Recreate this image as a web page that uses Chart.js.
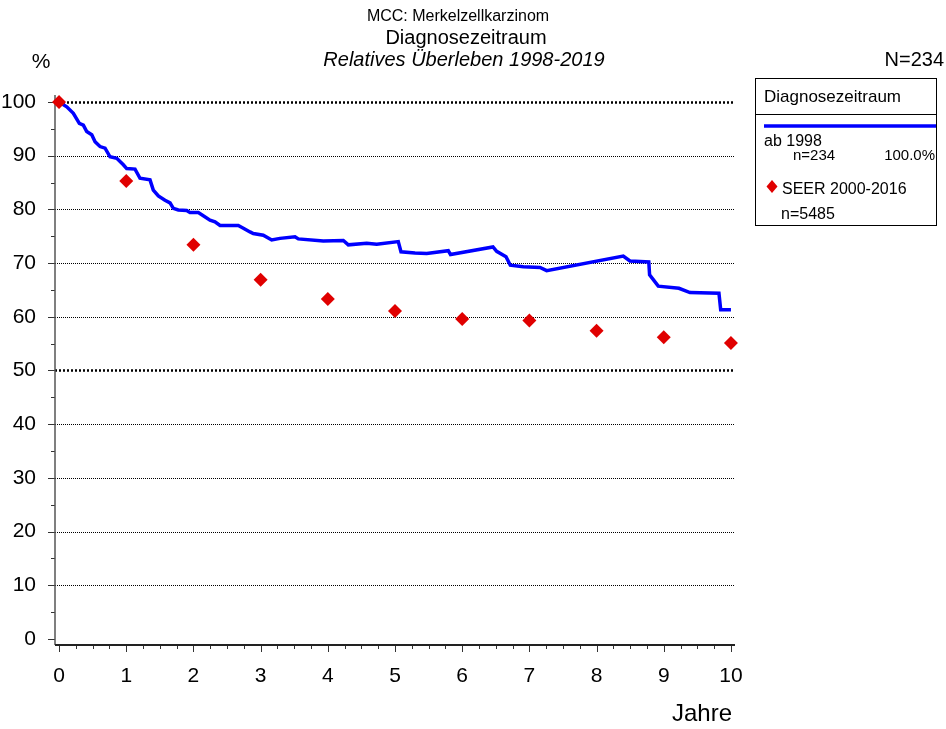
<!DOCTYPE html>
<html>
<head>
<meta charset="utf-8">
<script src="https://cdn.jsdelivr.net/npm/chart.js@4.4.1/dist/chart.umd.min.js"></script>
<style>
  html, body { margin: 0; padding: 0; background: #fff; }
  #wrap { width: 946px; height: 729px; }
</style>
</head>
<body>
<div id="wrap"><canvas id="chart" width="946" height="729"></canvas></div>
<script>
// Relative survival, diagnosis period from 1998 (n=234)
const survivalYears = [0, 0.115, 0.213, 0.302, 0.362, 0.412, 0.487, 0.536, 0.610, 0.685, 0.759, 0.859, 0.957,
  1.007, 1.131, 1.205, 1.354, 1.403, 1.478, 1.577, 1.652, 1.701, 1.775, 1.900, 1.949, 2.073, 2.124, 2.247,
  2.321, 2.396, 2.668, 2.743, 2.842, 2.891, 3.040, 3.165, 3.289, 3.512, 3.561, 3.933, 4.231, 4.305, 4.579,
  4.728, 5.049, 5.089, 5.298, 5.472, 5.793, 5.826, 6.458, 6.513, 6.652, 6.716, 6.909, 7.158, 7.257, 8.397,
  8.497, 8.777, 8.789, 8.918, 9.226, 9.390, 9.821, 9.847, 10.0];
const survivalPct = [100, 99.1, 97.9, 96.0, 95.7, 94.5, 93.9, 92.6, 91.7, 91.4, 89.8, 89.5, 88.3,
  87.6, 87.5, 85.8, 85.5, 83.6, 82.5, 81.7, 81.2, 80.2, 79.9, 79.8, 79.4, 79.4, 79.0, 78.0,
  77.7, 77.0, 77.0, 76.5, 75.8, 75.5, 75.2, 74.3, 74.6, 74.9, 74.5, 74.1, 74.2, 73.4, 73.7,
  73.5, 74.0, 72.1, 71.9, 71.8, 72.3, 71.6, 73.0, 72.2, 71.2, 69.6, 69.3, 69.2, 68.6, 71.3,
  70.4, 70.2, 67.8, 65.7, 65.3, 64.5, 64.4, 61.3, 61.3];

// SEER 2000-2016 comparison (n=5485)
const seerYears = [0, 1, 2, 3, 4, 5, 6, 7, 8, 9, 10];
const seerPct = [100, 85.3, 73.4, 66.9, 63.3, 61.1, 59.6, 59.3, 57.4, 56.2, 55.1];

const yTicks = [0, 10, 20, 30, 40, 50, 60, 70, 80, 90, 100];
const xTicks = [0, 1, 2, 3, 4, 5, 6, 7, 8, 9, 10];

const FONT = "'Liberation Sans', Arial, sans-serif";

// dotted grid, axis lines and tick marks
const frame = {
  id: 'frame',
  beforeDatasetsDraw(chart) {
    const { ctx, chartArea: a, scales: { x, y } } = chart;
    ctx.save();
    ctx.strokeStyle = '#000';
    yTicks.forEach(v => {
      if (v === 0) return;
      const heavy = v === 100 || v === 50;
      const py = Math.round(y.getPixelForValue(v)) + 0.5;
      ctx.lineWidth = heavy ? 2.5 : 1;
      ctx.setLineDash(heavy ? [2, 2] : [1, 1]);
      ctx.beginPath();
      ctx.moveTo(a.left, py);
      ctx.lineTo(a.right, py);
      ctx.stroke();
    });
    ctx.setLineDash([]);

    // tick marks
    ctx.lineWidth = 1;
    ctx.strokeStyle = '#333';
    for (let v = 0; v <= 100; v += 5) {
      const py = Math.round(y.getPixelForValue(v)) + 0.5;
      const len = v % 10 === 0 ? 7 : 4;
      ctx.beginPath();
      ctx.moveTo(a.left - len, py);
      ctx.lineTo(a.left, py);
      ctx.stroke();
    }
    for (let i = 0; i <= 40; i++) {
      const px = Math.round(x.getPixelForValue(i / 4)) + 0.5;
      const len = i % 4 === 0 ? 7 : 4;
      ctx.beginPath();
      ctx.moveTo(px, a.bottom);
      ctx.lineTo(px, a.bottom + len);
      ctx.stroke();
    }

    // axes
    ctx.strokeStyle = '#555';
    ctx.lineWidth = 1.5;
    ctx.beginPath();
    ctx.moveTo(a.left, a.top);
    ctx.lineTo(a.left, a.bottom);
    ctx.stroke();
    ctx.strokeStyle = '#222';
    ctx.lineWidth = 2;
    ctx.beginPath();
    ctx.moveTo(a.left, a.bottom);
    ctx.lineTo(a.right, a.bottom);
    ctx.stroke();
    ctx.restore();
  }
};

// titles, axis captions and the legend box
const texts = {
  id: 'texts',
  afterDraw(chart) {
    const ctx = chart.ctx;
    ctx.save();
    ctx.fillStyle = '#000';
    ctx.textBaseline = 'middle';

    ctx.textAlign = 'center';
    ctx.font = `16px ${FONT}`;
    ctx.fillText('MCC: Merkelzellkarzinom', 458, 17);
    ctx.font = `20px ${FONT}`;
    ctx.fillText('Diagnosezeitraum', 466, 38);
    ctx.font = `italic 20px ${FONT}`;
    ctx.fillText('Relatives Überleben 1998-2019', 464, 60);

    ctx.font = `21px ${FONT}`;
    ctx.fillText('%', 41, 62);
    ctx.textAlign = 'right';
    ctx.font = `20px ${FONT}`;
    ctx.fillText('N=234', 944, 60);
    ctx.font = `24px ${FONT}`;
    ctx.fillText('Jahre', 732, 714);

    // legend box
    ctx.strokeStyle = '#000';
    ctx.lineWidth = 1;
    ctx.strokeRect(755.5, 78.5, 181, 147);
    ctx.beginPath();
    ctx.moveTo(755, 114.5);
    ctx.lineTo(936, 114.5);
    ctx.stroke();

    ctx.textAlign = 'left';
    ctx.font = `17px ${FONT}`;
    ctx.fillText('Diagnosezeitraum', 764, 97);

    ctx.strokeStyle = '#0000ff';
    ctx.lineWidth = 3.5;
    ctx.beginPath();
    ctx.moveTo(764, 126);
    ctx.lineTo(936, 126);
    ctx.stroke();

    ctx.font = `16px ${FONT}`;
    ctx.fillText('ab 1998', 764, 142);
    ctx.font = `15px ${FONT}`;
    ctx.fillText('n=234', 793, 156);
    ctx.textAlign = 'right';
    ctx.fillText('100.0%', 935, 156);

    ctx.fillStyle = '#e00000';
    ctx.beginPath();
    ctx.moveTo(772, 180);
    ctx.lineTo(777.5, 186.5);
    ctx.lineTo(772, 193);
    ctx.lineTo(766.5, 186.5);
    ctx.closePath();
    ctx.fill();

    ctx.fillStyle = '#000';
    ctx.textAlign = 'left';
    ctx.font = `16px ${FONT}`;
    ctx.fillText('SEER 2000-2016', 782, 190);
    ctx.fillText('n=5485', 781, 215);
    ctx.restore();
  }
};

new Chart(document.getElementById('chart'), {
  type: 'line',
  data: {
    datasets: [
      {
        label: 'SEER 2000-2016',
        data: seerYears.map((v, i) => ({ x: v, y: seerPct[i] })),
        showLine: false,
        pointStyle: 'rectRot',
        pointRadius: 7,
        pointBackgroundColor: '#e00000',
        pointBorderColor: '#e00000',
        pointBorderWidth: 0,
        clip: false,
        order: 0
      },
      {
        label: 'ab 1998',
        data: survivalYears.map((v, i) => ({ x: v, y: survivalPct[i] })),
        borderColor: '#0000ff',
        borderWidth: 3.5,
        pointRadius: 0,
        tension: 0,
        fill: false,
        clip: false,
        order: 1
      }
    ]
  },
  options: {
    responsive: false,
    devicePixelRatio: 1,
    animation: false,
    layout: { padding: { top: 95, right: 211, left: 0, bottom: 0 } },
    plugins: {
      legend: { display: false },
      title: { display: false },
      tooltip: { enabled: false }
    },
    scales: {
      x: {
        type: 'linear',
        min: -0.06,
        max: 10.06,
        afterFit: s => { s.height = 84; },
        afterBuildTicks: s => { s.ticks = xTicks.map(v => ({ value: v })); },
        grid: { display: false },
        border: { display: false },
        ticks: { color: '#000', font: { family: FONT, size: 21 }, padding: 11, maxRotation: 0, autoSkip: false }
      },
      y: {
        type: 'linear',
        min: -1.12,
        max: 101.3,
        afterFit: s => { s.width = 55; },
        afterBuildTicks: s => { s.ticks = yTicks.map(v => ({ value: v })); },
        grid: { display: false },
        border: { display: false },
        ticks: { color: '#000', font: { family: FONT, size: 21 }, padding: 11 }
      }
    }
  },
  plugins: [frame, texts]
});
</script>
</body>
</html>
